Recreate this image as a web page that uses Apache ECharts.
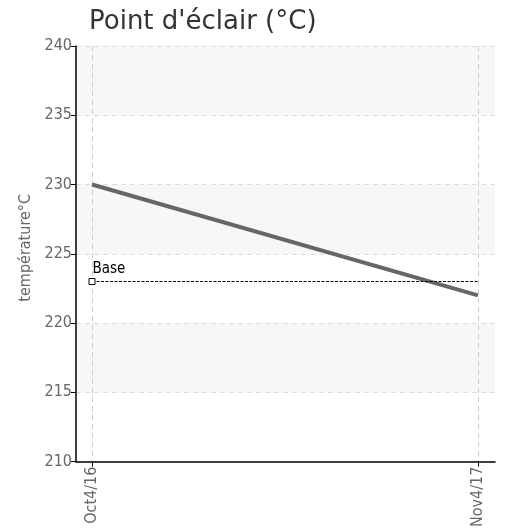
<!DOCTYPE html>
<html><head><meta charset="utf-8">
<script src="https://cdn.jsdelivr.net/npm/echarts@6/dist/echarts.min.js"></script>
<style>html,body{margin:0;padding:0;background:#fff}#c{width:511px;height:530px}</style>
</head><body><div id="c"></div>
<script>
const categories = ['Oct4/16', 'Nov4/17'];
const values = [230, 222];
const baseValue = 223;
const baseLabel = 'Base';
const titleText = "Point d'éclair (°C)";
const yAxisName = 'température°C';

const idx = categories.map((c, i) => i);
const chart = echarts.init(document.getElementById('c'));
chart.setOption({
  animation: false,
  title: { text: titleText, left: 84, top: 4, textStyle: { fontFamily: 'DejaVu Sans', fontSize: 26, fontWeight: 'normal', color: '#333' } },
  grid: { left: 76, right: 16, top: 46, bottom: 67 },
  xAxis: {
    type: 'value', min: -0.0415, max: 1.044,
    axisLine: { show: true, onZero: false, lineStyle: { color: '#000', width: 1.5 } },
    axisTick: { show: true, customValues: idx, length: 5, lineStyle: { color: '#000' } },
    axisLabel: { customValues: idx, rotate: 90, formatter: v => categories[Math.round(v)] || '', color: '#666', fontFamily: 'DejaVu Sans Condensed', fontSize: 16, margin: 5 },
    splitLine: { show: true, lineStyle: { color: '#ccc', type: [5, 4] } }
  },
  yAxis: {
    type: 'value', min: 210, max: 240, interval: 5,
    name: yAxisName, nameLocation: 'middle', nameGap: 40, nameRotate: 90,
    nameTextStyle: { color: '#666', fontFamily: 'DejaVu Sans Condensed', fontSize: 16, padding: [0, 0, 0, 12] },
    axisLine: { show: true, onZero: false, lineStyle: { color: '#000', width: 1.5 } },
    axisTick: { show: true, length: 5, lineStyle: { color: '#000' } },
    axisLabel: { color: '#666', fontFamily: 'DejaVu Sans Condensed', fontSize: 16, margin: 4 },
    splitLine: { show: true, lineStyle: { color: '#ddd', type: [5, 4] } },
    splitArea: { show: true, areaStyle: { color: ['#ffffff', '#f7f7f7'] } }
  },
  series: [
    {
      type: 'line', data: idx.map(i => [i, values[i]]), symbol: 'none',
      lineStyle: { color: '#666', width: 4 }, z: 3
    },
    {
      type: 'line', data: idx.map(i => [i, baseValue]),
      symbol: (v, p) => p.dataIndex === 0 ? 'rect' : 'none', symbolSize: 6,
      itemStyle: { color: '#fff', borderColor: '#000', borderWidth: 1 },
      lineStyle: { color: '#000', width: 1.2, type: [3, 1.5] },
      label: { show: true, formatter: p => p.dataIndex === 0 ? baseLabel : '', position: [4, -16], color: '#000', fontFamily: 'DejaVu Sans Condensed', fontSize: 15 },
      z: 4
    }
  ]
});
</script></body></html>
